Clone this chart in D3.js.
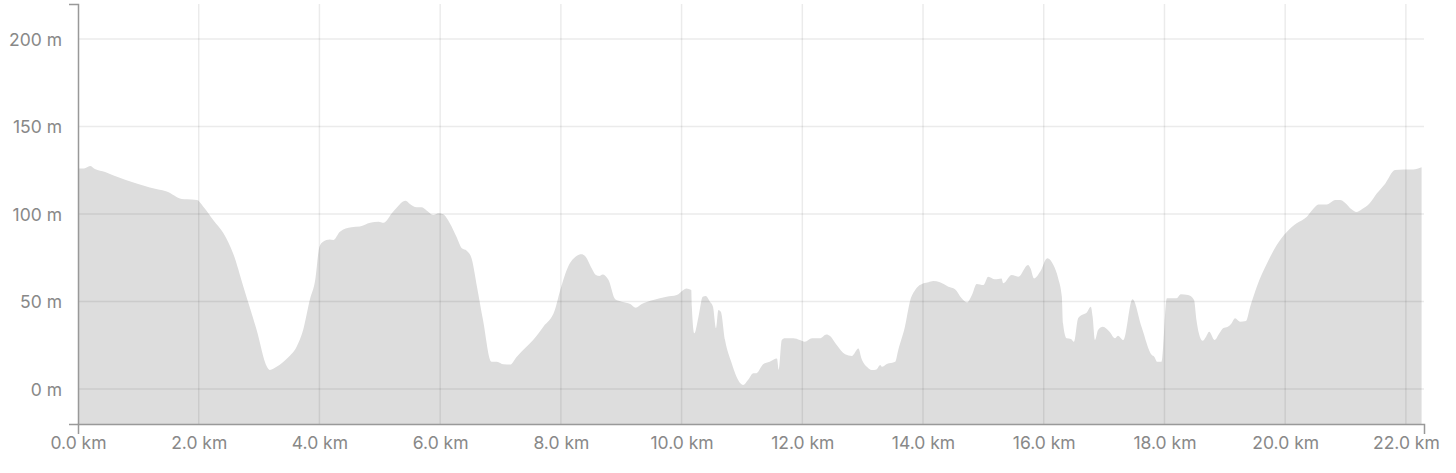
<!DOCTYPE html>
<html>
<head>
<meta charset="utf-8">
<script src="https://cdn.jsdelivr.net/npm/d3@7"></script>
<style>
  body { margin: 0; background: #fff; }
  .axis text { font-family: Inter, "Liberation Sans", sans-serif; font-size: 17.5px; fill: #888; }
  .axis path { stroke: #999; stroke-width: 1.5px; }
</style>
</head>
<body>
<div id="chart"></div>
<script>
// distance along the route (km) and elevation (m)
var distKm = [0.00, 0.10, 0.20, 0.28, 0.45, 0.59, 0.97, 1.19, 1.47, 1.72, 1.80, 1.97, 2.08, 2.24, 2.41, 2.57, 2.74, 2.96,
  3.13, 3.18, 3.29, 3.48, 3.62, 3.73, 3.84, 3.93, 4.00, 4.06, 4.17, 4.23, 4.34, 4.53, 4.67, 4.84, 4.98, 5.06, 5.22, 5.43,
  5.50, 5.61, 5.69, 5.78, 5.89, 5.97, 6.05, 6.16, 6.27, 6.36, 6.44, 6.52, 6.61, 6.71, 6.85, 6.94, 7.05, 7.16, 7.27, 7.43,
  7.54, 7.71, 7.90, 7.99, 8.12, 8.26, 8.34, 8.40, 8.51, 8.58, 8.64, 8.69, 8.79, 8.90, 9.01, 9.15, 9.24, 9.34, 9.53, 9.75,
  9.92, 10.03, 10.08, 10.16, 10.17, 10.21, 10.28, 10.35, 10.40, 10.47, 10.52, 10.57, 10.61, 10.65, 10.72, 10.83, 10.91,
  11.02, 11.10, 11.19, 11.24, 11.35, 11.46, 11.58, 11.61, 11.66, 11.71, 11.85, 11.96, 12.04, 12.16, 12.29, 12.40, 12.46,
  12.57, 12.71, 12.82, 12.93, 12.98, 13.07, 13.15, 13.23, 13.29, 13.32, 13.40, 13.54, 13.59, 13.70, 13.79, 13.87, 14.01,
  14.09, 14.17, 14.28, 14.42, 14.53, 14.64, 14.73, 14.81, 14.89, 15.00, 15.08, 15.19, 15.30, 15.33, 15.47, 15.58, 15.74,
  15.78, 15.84, 15.94, 16.06, 16.16, 16.24, 16.30, 16.32, 16.38, 16.45, 16.50, 16.57, 16.63, 16.71, 16.78, 16.81, 16.85,
  16.90, 16.98, 17.09, 17.18, 17.23, 17.32, 17.47, 17.62, 17.79, 17.83, 17.88, 17.95, 18.04, 18.20, 18.27, 18.39, 18.49,
  18.53, 18.57, 18.63, 18.69, 18.74, 18.83, 18.91, 18.97, 19.05, 19.11, 19.17, 19.25, 19.35, 19.42, 19.53, 19.70, 19.86,
  20.03, 20.19, 20.36, 20.47, 20.55, 20.69, 20.83, 20.91, 20.99, 21.10, 21.18, 21.27, 21.40, 21.52, 21.66, 21.82, 21.96,
  22.12, 22.26];
var elevM = [126, 126, 127.4, 125.7, 124, 122, 117.5, 115.2, 112.8, 108.6, 108.4, 108, 104, 96.6, 89, 77.5, 58.5, 33.7,
  12.7, 10.9, 12.7, 18, 24, 33.7, 50.9, 62.3, 81.3, 84.2, 85.5, 85.1, 89.9, 92.4, 92.8, 95, 95.6, 95, 101.3, 107.6,
  105.7, 103.8, 103.8, 101.9, 99.4, 100.4, 99.8, 94.7, 87, 80.4, 79, 74.7, 58.5, 39.4, 15.6, 15.6, 14.1, 14, 18.5, 24.2,
  28, 35.6, 45.1, 56.6, 69.9, 76, 77, 76, 69, 65.1, 64.6, 65.5, 62.3, 51.3, 49.9, 48.6, 46.5, 48.6, 50.9, 52.7,
  53.7, 56.6, 57.5, 56.6, 47, 31.8, 41.3, 52.7, 53.1, 49.9, 47, 34.7, 45.1, 44.2, 28, 14.7, 7,
  2.3, 5.1, 9, 9, 14.1, 15.6, 17.5, 10.9, 28, 29, 29, 28, 27, 29, 29, 31.2, 30.3,
  25.1, 19.8, 18.9, 23.2, 17.5, 12.7, 10.9, 11.2, 13.7, 12.7, 14.3, 15.6, 22.3, 35.6, 50.9, 56.6, 60.4,
  61, 61.7, 61, 58.5, 57, 51.8, 49.5, 53.7, 60, 59.4, 64.2, 62.7, 63.2, 60.4, 65.1, 64.2, 70.9,
  69, 63.2, 67, 74.7, 70.9, 63.2, 52.7, 37.5, 29, 28.6, 27, 40.4, 42.3, 43.6, 47, 41.3, 28,
  33.7, 35.6, 32.7, 29, 30.5, 28, 51.3, 35.6, 19.4, 18.5, 15.6, 15.6, 51.8, 51.8, 54.1, 53.7, 50.9,
  39.4, 31.8, 27.6, 29.9, 32.7, 28, 31.8, 34.7, 35.6, 37.5, 40.4, 38.5, 38.9, 47, 58.5, 71.8, 82.3,
  89.9, 94.7, 98.5, 103.2, 105.5, 105.5, 108, 108, 106.5, 102.7, 101.1, 102.7, 106.1, 111.8, 117.5, 125.1, 125.5,
  125.5, 126.7];

var xTicks = [0, 2, 4, 6, 8, 10, 12, 14, 16, 18, 20, 22];
var yTicks = [0, 50, 100, 150, 200];

var W = 1456, H = 473;
var margin = {top: 4, right: 32, bottom: 49, left: 78};
var width = W - margin.left - margin.right;
var height = H - margin.top - margin.bottom;

var data = distKm.map(function(d, i){ return {km: d, m: elevM[i]}; });

var x = d3.scaleLinear().domain([0, 22.3]).range([0, width]);
var y = d3.scaleLinear().domain([-20, 220]).range([height, 0]);

var svg = d3.select('#chart').append('svg')
    .attr('width', W)
    .attr('height', H)
    .append('g')
    .attr('transform', 'translate(' + margin.left + ',' + margin.top + ')');

// elevation area
svg.append('path')
    .datum(data)
    .attr('fill', '#dddddd')
    .attr('d', d3.area()
        .x(function(d){ return x(d.km); })
        .y0(height)
        .y1(function(d){ return y(d.m); })
        .curve(d3.curveMonotoneX));

// grid drawn on top, semi transparent so it shows darker over the area
var grid = svg.append('g').attr('class', 'grid')
    .attr('stroke', 'rgba(0,0,0,0.08)')
    .attr('stroke-width', 1.5);
grid.selectAll('line.v')
    .data(xTicks.slice(1))
    .enter().append('line')
    .attr('x1', function(d){ return x(d); })
    .attr('x2', function(d){ return x(d); })
    .attr('y1', 0)
    .attr('y2', height);
grid.selectAll('line.h')
    .data(yTicks)
    .enter().append('line')
    .attr('x1', 0)
    .attr('x2', width)
    .attr('y1', function(d){ return y(d); })
    .attr('y2', function(d){ return y(d); });

svg.append('g')
    .attr('class', 'axis')
    .call(d3.axisLeft(y).tickValues(yTicks).tickSizeInner(0).tickSizeOuter(9).tickPadding(16)
        .tickFormat(function(d){ return d + ' m'; }))
    .call(function(g){ g.selectAll('text').attr('dy', '0.35em'); });

svg.append('g')
    .attr('class', 'axis')
    .attr('transform', 'translate(0,' + height + ')')
    .call(d3.axisBottom(x).tickValues(xTicks).tickSizeInner(0).tickSizeOuter(10).tickPadding(13)
        .tickFormat(function(d){ return d.toFixed(1) + ' km'; }));
</script>
</body>
</html>
